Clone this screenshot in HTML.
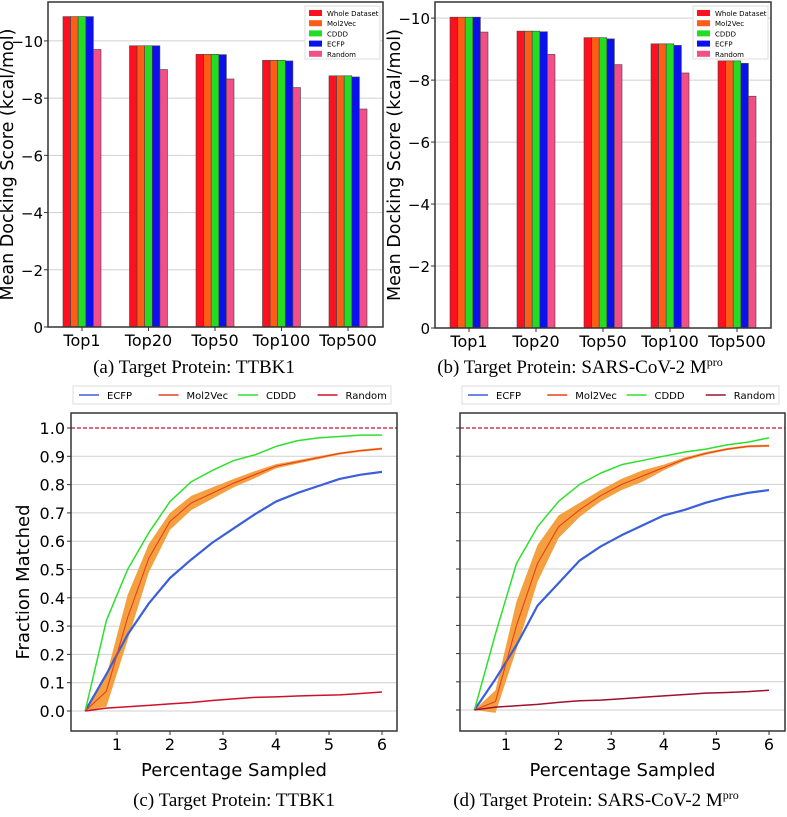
<!DOCTYPE html>
<html><head><meta charset="utf-8">
<style>
body{margin:0;background:#fff;width:787px;height:817px;overflow:hidden;}
svg{display:block;font-family:"DejaVu Sans","Liberation Sans",sans-serif;}
.cap{font-family:"Liberation Serif","DejaVu Serif",serif;font-size:19px;}
</style></head>
<body>
<svg id="fig" width="787" height="817" viewBox="0 0 787 817" xmlns="http://www.w3.org/2000/svg"></svg>
<script>
const barCategories=["Top1","Top20","Top50","Top100","Top500"];
const barSeries=["Whole Dataset","Mol2Vec","CDDD","ECFP","Random"];
const barColors=["#ff1020","#ff5c18","#22dd22","#0b10ee","#f24e88"];
const ttbkWhole=[10.85,9.83,9.53,9.32,8.78];
const ttbkMol2Vec=[10.85,9.83,9.53,9.32,8.78];
const ttbkCDDD=[10.85,9.83,9.53,9.32,8.78];
const ttbkECFP=[10.85,9.83,9.52,9.30,8.74];
const ttbkRandom=[9.70,9.00,8.67,8.37,7.62];
const sarsWhole=[10.03,9.58,9.37,9.17,8.62];
const sarsMol2Vec=[10.03,9.58,9.37,9.17,8.62];
const sarsCDDD=[10.03,9.58,9.37,9.17,8.62];
const sarsECFP=[10.03,9.56,9.33,9.12,8.54];
const sarsRandom=[9.55,8.83,8.50,8.23,7.48];
const barTicks=[0,2,4,6,8,10];

const lineX=[0.4,0.8,1.2,1.6,2.0,2.4,2.8,3.2,3.6,4.0,4.4,4.8,5.2,5.6,6.0];
const lineNames=["ECFP","Mol2Vec","CDDD","Random"];
const ttbkLineECFP=[0,0.13,0.27,0.38,0.47,0.535,0.595,0.645,0.695,0.74,0.77,0.795,0.82,0.835,0.845];
const ttbkLineMol2Vec=[0,0.07,0.33,0.54,0.67,0.735,0.77,0.805,0.835,0.865,0.88,0.895,0.91,0.92,0.927];
const ttbkLineCDDD=[0,0.32,0.50,0.63,0.74,0.81,0.85,0.885,0.905,0.935,0.955,0.965,0.97,0.975,0.975];
const ttbkLineRandom=[0,0.01,0.015,0.02,0.025,0.03,0.037,0.043,0.048,0.05,0.053,0.055,0.057,0.062,0.067];
const ttbkMolBand=[0,0.11,0.16,0.1,0.06,0.05,0.04,0.03,0.025,0.015,0.012,0.01,0.008,0.008,0.008];
const sarsLineECFP=[0,0.11,0.23,0.37,0.45,0.53,0.58,0.62,0.655,0.69,0.71,0.735,0.755,0.77,0.78];
const sarsLineMol2Vec=[0,0.03,0.30,0.52,0.65,0.71,0.76,0.80,0.83,0.86,0.89,0.91,0.925,0.935,0.937];
const sarsLineCDDD=[0,0.27,0.52,0.65,0.74,0.80,0.84,0.87,0.885,0.90,0.915,0.925,0.94,0.95,0.965];
const sarsLineRandom=[0,0.01,0.015,0.02,0.027,0.033,0.035,0.04,0.045,0.05,0.055,0.06,0.062,0.065,0.07];
const sarsMolBand=[0,0.08,0.17,0.13,0.08,0.05,0.04,0.04,0.04,0.02,0.012,0.01,0.008,0.008,0.008];
const lineYTicks=[0.0,0.1,0.2,0.3,0.4,0.5,0.6,0.7,0.8,0.9,1.0];
const lineXTicks=[1,2,3,4,5,6];

const NS="http://www.w3.org/2000/svg";
const fig=document.getElementById('fig');
function mk(tag,attrs,parent,text){const e=document.createElementNS(NS,tag);for(const k in attrs)e.setAttribute(k,attrs[k]);if(text!==undefined)e.textContent=text;(parent||fig).appendChild(e);return e;}

function barChart(id,L,R,T,B,ymax,groupFirst,groupStep,series,caption,capX,sup){
  const g=mk('g',{},fig);
  
  
  const y=v=>B-(B-T)*v/ymax;
  const x=i=>groupFirst+groupStep*i;
  const yl=mk('text',{x:0,y:0,transform:`translate(${L-35},${(T+B)/2}) rotate(-90)`,'text-anchor':'middle','font-size':17.5},g,'Mean Docking Score (kcal/mol)');
  
  barTicks.forEach(t=>{
    if(t>0){const gl=mk('line',{x1:L,x2:R,y1:y(t),y2:y(t),stroke:'#d0d0d0','stroke-width':1},g);
    }
    mk('line',{x1:L-4,x2:L,y1:y(t),y2:y(t),stroke:'#333'},g);
    const tl=mk('text',{x:L-5,y:y(t)+6,'text-anchor':'end','font-size':15},g,t===0?'0':'\u2212'+t);
    
  });
  const bw=7.6;
  barCategories.forEach((c,i)=>{
    series.forEach((s,j)=>{
      const v=s[i];const bx=x(i)+(j-2)*bw-bw/2;
      const r=mk('rect',{x:bx,y:y(v),width:bw,height:B-y(v),fill:barColors[j],stroke:'#444','stroke-width':0.6},g);
      
      
    });
    mk('line',{x1:x(i),x2:x(i),y1:B,y2:B+4,stroke:'#333'},g);
    const xl=mk('text',{x:x(i),y:B+19,'text-anchor':'middle','font-size':16},g,c);
    
  });
  const fr=mk('rect',{x:L,y:T,width:R-L,height:B-T,fill:'none',stroke:'#333','stroke-width':1.5},g);
  
  const lg=mk('g',{},g);
  
  const lx=R-78,ly=T+4;
  mk('rect',{x:lx,y:ly,width:75,height:53,fill:'#fff',stroke:'#ddd'},lg);
  barSeries.forEach((s,j)=>{
    const e=mk('g',{},lg);
    
    mk('rect',{x:lx+4,y:ly+4+j*10.2,width:13,height:6,fill:barColors[j]},e);
    mk('text',{x:lx+22,y:ly+10+j*10.2,'font-size':7},e,s);
  });
  const cp=mk('text',{x:capX,y:373,'text-anchor':'middle',class:'cap'},g);
  cp.textContent=caption;
  if(sup){mk('tspan',{'font-size':12,dy:-7},cp,'pro');}
  
}

barChart('ttbk1',48,383,2,327,11.36,82,66.5,[ttbkWhole,ttbkMol2Vec,ttbkCDDD,ttbkECFP,ttbkRandom],'(a) Target Protein: TTBK1',194,false);
barChart('sars',435,771,2,328,10.52,469,67,[sarsWhole,sarsMol2Vec,sarsCDDD,sarsECFP,sarsRandom],'(b) Target Protein: SARS-CoV-2 M',580,true);

const lineColors=["#3b5fd9","#e8401c","#2ee02e","#c8102e"];
function lineChart(id,L,R,T,B,x1px,x6px,y0px,y1px,ecfp,mol,cddd,rnd,band,showY,caption,capX,sup,randomColor){
  const g=mk('g',{},fig);
  
  const x=v=>x1px+(x6px-x1px)*(v-1)/5;
  const y=v=>y0px+(y1px-y0px)*v;
  lineYTicks.forEach(t=>{
    if(t<1){const gl=mk('line',{x1:L,x2:R,y1:y(t),y2:y(t),stroke:'#d0d0d0'},g);
    }
    mk('line',{x1:L-4,x2:L,y1:y(t),y2:y(t),stroke:'#333'},g);
    if(showY){const tl=mk('text',{x:L-6,y:y(t)+6,'text-anchor':'end','font-size':16},g,t.toFixed(1));
    }
  });
  lineXTicks.forEach(t=>{
    mk('line',{x1:x(t),x2:x(t),y1:B,y2:B+4,stroke:'#333'},g);
    const xl=mk('text',{x:x(t),y:B+19,'text-anchor':'middle','font-size':16},g,String(t));
    
  });
  const ref=mk('line',{x1:L,x2:R,y1:y(1),y2:y(1),stroke:'#c8102e','stroke-width':1.2,'stroke-dasharray':'4,2'},g);
  
  let up=lineX.map((v,i)=>x(v)+','+y(mol[i]+band[i]/2));
  let lo=lineX.map((v,i)=>x(v)+','+y(mol[i]-band[i]/2)).reverse();
  const bd=mk('polygon',{points:up.concat(lo).join(' '),fill:'#f5a040'},g);
  
  const series=[[ecfp,lineColors[0],'ecfp'],[cddd,lineColors[2],'cddd'],[mol,lineColors[1],'mol2vec'],[rnd,randomColor,'random']];
  series.forEach(([d,c,n])=>{
    const pts=lineX.map((v,i)=>x(v)+','+y(d[i])).join(' ');
    const pl=mk('polyline',{points:pts,fill:'none',stroke:c,'stroke-width':n==='mol2vec'?1.1:(n==='ecfp'?2.2:1.5),'stroke-linejoin':'round'},g);
    
  });
  const fr=mk('rect',{x:L,y:T,width:R-L,height:B-T,fill:'none',stroke:'#333','stroke-width':1.5},g);
  
  const xt=mk('text',{x:(L+R)/2,y:B+45,'text-anchor':'middle','font-size':18},g,'Percentage Sampled');
  
  if(showY){const yt=mk('text',{x:0,y:0,transform:`translate(${L-42},${(T+B)/2+10}) rotate(-90)`,'text-anchor':'middle','font-size':18},g,'Fraction Matched');
  }
  const lg=mk('g',{},g);
  
  const lx=L+2,lw=R-L-8;
  mk('rect',{x:lx,y:386,width:lw,height:18,fill:'#fff',stroke:'#ddd'},lg);
  const cols=[lineColors[0],lineColors[1],lineColors[2],randomColor];
  lineNames.forEach((n,j)=>{
    const ex=lx+6+j*lw/4;
    const e=mk('g',{},lg);
    
    mk('line',{x1:ex,x2:ex+20,y1:395,y2:395,stroke:cols[j],'stroke-width':1.5},e);
    mk('text',{x:ex+28,y:399,'font-size':10},e,n);
  });
  const cp=mk('text',{x:capX,y:806,'text-anchor':'middle',class:'cap'},g);
  cp.textContent=caption;
  if(sup){mk('tspan',{'font-size':12,dy:-7},cp,'pro');}
  
}
lineChart('ttbk1',71,397,413,731,117,382,711,428,ttbkLineECFP,ttbkLineMol2Vec,ttbkLineCDDD,ttbkLineRandom,ttbkMolBand,true,'(c) Target Protein: TTBK1',234,false,'#d0102a');
lineChart('sars',460,785,413,731,506,769,710,428,sarsLineECFP,sarsLineMol2Vec,sarsLineCDDD,sarsLineRandom,sarsMolBand,false,'(d) Target Protein: SARS-CoV-2 M',596,true,'#a01030');
</script>
</body></html>
